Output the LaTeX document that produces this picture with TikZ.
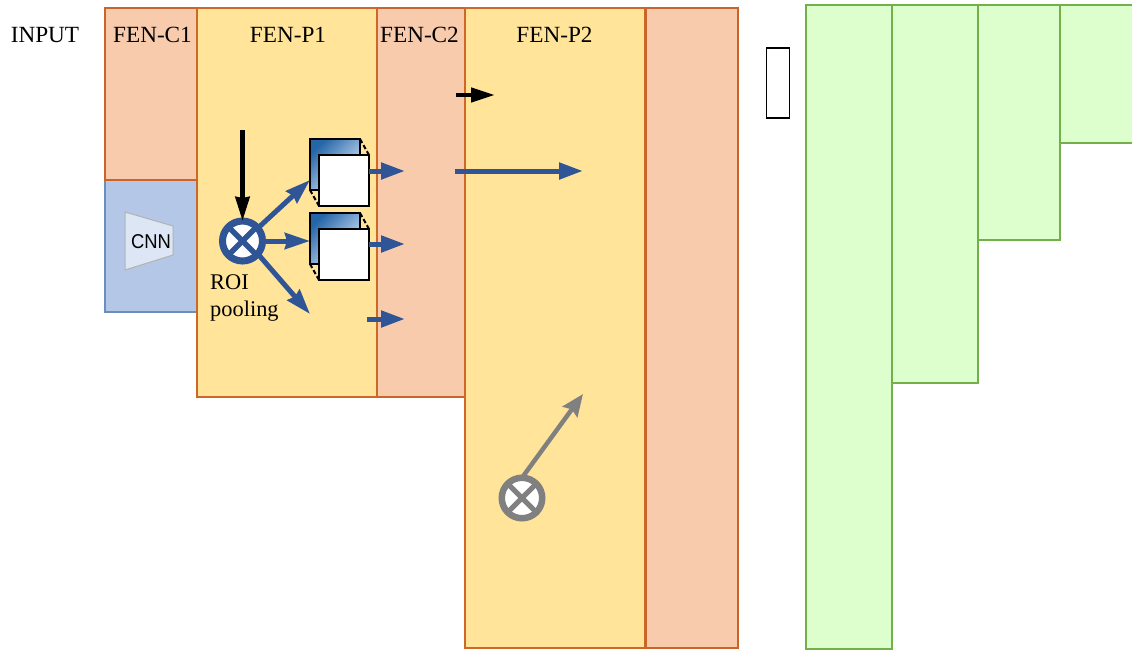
\documentclass[tikz,border=0pt]{standalone}
\usepackage{fontspec}
\setmainfont{Liberation Serif}
\setsansfont{Liberation Sans}
\usetikzlibrary{arrows.meta}
\definecolor{peach}{HTML}{F8CBAD}
\definecolor{peachline}{HTML}{C9652A}
\definecolor{sandy}{HTML}{FFE499}
\definecolor{skyfill}{HTML}{B4C7E7}
\definecolor{skyline}{HTML}{6C8EBF}
\definecolor{mintfill}{HTML}{DCFFCD}
\definecolor{mintline}{HTML}{74B04A}
\definecolor{arrowblue}{HTML}{2F5597}
\definecolor{arrowgray}{HTML}{808080}
\definecolor{docdark}{HTML}{2566A8}
\definecolor{doclight}{HTML}{E2EEFF}
\tikzset{
  panel/.style={draw,line width=1.2pt,anchor=north west,inner sep=0pt,outer sep=0pt},
  cpanel/.style={panel,fill=peach,draw=peachline},
  ppanel/.style={panel,fill=sandy,draw=peachline!90!orange},
  bpanel/.style={panel,fill=skyfill,draw=skyline},
  gpanel/.style={panel,fill=mintfill,draw=mintline},
  lab/.style={font=\fontsize{23.2}{27}\selectfont,inner sep=0pt},
  roilab/.style={font=\fontsize{22.4}{27}\selectfont,inner sep=0pt,anchor=base west},
  backdoc/.style={draw=black,line width=1.8pt,anchor=north west,inner sep=0pt,outer sep=0pt,minimum width=50pt,minimum height=51pt,
    shade,shading=axis,left color=docdark,right color=doclight,shading angle=45},
  frontdoc/.style={draw=black,fill=white,line width=1.8pt,anchor=north west,inner sep=0pt,outer sep=0pt,minimum width=50pt,minimum height=51pt},
  link/.style={draw=black,line width=2pt,dash pattern=on 4.5pt off 2.5pt},
  barrow/.style={draw=arrowblue,line width=5pt,-{Stealth[length=25pt,width=16pt,inset=2pt,fill=arrowblue]}},
  sarrow/.style={draw=arrowblue,line width=5pt,-{Triangle[length=24pt,width=16pt,fill=arrowblue]}},
  karrow/.style={draw=black,line width=4.5pt,-{Stealth[length=24pt,width=14pt,inset=1pt]}},
  garrow/.style={draw=arrowgray,line width=4.5pt,-{Stealth[length=22pt,width=18pt,inset=3pt]}},
  otimesnode/.style={circle,fill=white,draw=arrowblue,line width=7pt,minimum size=40pt,inner sep=0pt,outer sep=0pt},
  otimesgray/.style={circle,fill=white,draw=arrowgray,line width=6.5pt,minimum size=40.5pt,inner sep=0pt,outer sep=0pt},
}
\begin{document}
\begin{tikzpicture}[x=1pt,y=-1pt]
\useasboundingbox (0,0) rectangle (1132,649);
% green staircase
\begin{scope}
\clip (0,0) rectangle (1132,649);
\node[gpanel,minimum width=86pt,minimum height=644pt] (g1) at (806,5) {};
\node[gpanel,minimum width=86pt,minimum height=378pt] (g2) at (892,5) {};
\node[gpanel,minimum width=82pt,minimum height=235pt] (g3) at (978,5) {};
\node[gpanel,minimum width=76pt,minimum height=138pt] (g4) at (1060,5) {};
\end{scope}
% panels
\node[bpanel,minimum width=92pt,minimum height=132pt] (cnnbox) at (105,180) {};
\node[cpanel,minimum width=92pt,minimum height=172pt] (c1) at (105,8) {};
\node[cpanel,minimum width=88pt,minimum height=389pt] (c2) at (377,8) {};
\node[ppanel,minimum width=180pt,minimum height=389pt] (p1) at (197,8) {};
\node[ppanel,minimum width=180pt,minimum height=640pt] (p2) at (465,8) {};
\node[cpanel,minimum width=92pt,minimum height=640pt] (c3) at (646,8) {};
\node[draw=black,line width=1.8pt,fill=white,anchor=north west,inner sep=0pt,minimum width=23pt,minimum height=70pt] (small) at (765.6,47.2) {};
% labels
\node[lab] (tinput) at (45,35) {INPUT};
\node[lab] (tc1) at (152.5,35) {FEN-C1};
\node[lab] (tp1) at (288,35) {FEN-P1};
\node[lab] (tc2) at (419.5,35) {FEN-C2};
\node[lab] (tp2) at (554.5,35) {FEN-P2};
\node[roilab] (troi) at (210,289) {ROI};
\node[roilab] (tpool) at (210,316) {pooling};
% CNN trapezoid
\draw[draw=black!30,fill=skyfill!45!white,line width=1pt] (125,212) -- (173,226) -- (173,255) -- (125,270) -- cycle;
\node[font=\sffamily\fontsize{20}{22}\selectfont,inner sep=0pt] (tcnn) at (151,241.5) {\scalebox{0.92}[1]{CNN}};
% documents
\node[backdoc] (b1) at (310,139) {};
\draw[link] (b1.north east) -- ++(9,16);
\draw[link] (b1.south west) -- ++(9,16);
\node[frontdoc] (f1) at (319,155) {};
\node[backdoc] (b2) at (310,213) {};
\draw[link] (b2.north east) -- ++(9,16);
\draw[link] (b2.south west) -- ++(9,16);
\node[frontdoc] (f2) at (319,229) {};
% ROI circle
\node[otimesnode] (roi) at (242.5,241) {};
\draw[arrowblue,line width=5.5pt] (roi.45) -- (roi.225);
\draw[arrowblue,line width=5.5pt] (roi.135) -- (roi.315);
% gray circle
\node[otimesgray] (gc) at (522,498) {};
\draw[arrowgray,line width=5pt] (gc.45) -- (gc.225);
\draw[arrowgray,line width=5pt] (gc.135) -- (gc.315);
% free ends
\coordinate (e0) at (242.5,130);
\coordinate (e1) at (310,180);
\coordinate (e2) at (310,241);
\coordinate (e3) at (310,314);
\coordinate (s1) at (369,171); \coordinate (t1) at (405,171);
\coordinate (s2) at (369,244); \coordinate (t2) at (405,244);
\coordinate (s3) at (367,319); \coordinate (t3) at (405,319);
\coordinate (s4) at (455,171); \coordinate (t4) at (583,171);
\coordinate (s5) at (456,95);  \coordinate (t5) at (495,95);
\coordinate (t6) at (583,394);
% arrows
\draw[karrow] (e0) -- (roi.north);
\draw[barrow] (roi.40) -- (e1);
\draw[barrow] (roi.east) -- (e2);
\draw[barrow] (roi.320) -- (e3);
\draw[sarrow] (s1) -- (t1);
\draw[sarrow] (s2) -- (t2);
\draw[sarrow] (s3) -- (t3);
\draw[sarrow] (s4) -- (t4);
\draw[karrow,-{Triangle[length=24pt,width=14pt]}] (s5) -- (t5);
\draw[garrow] (gc.north) -- (t6);
\end{tikzpicture}
\end{document}
